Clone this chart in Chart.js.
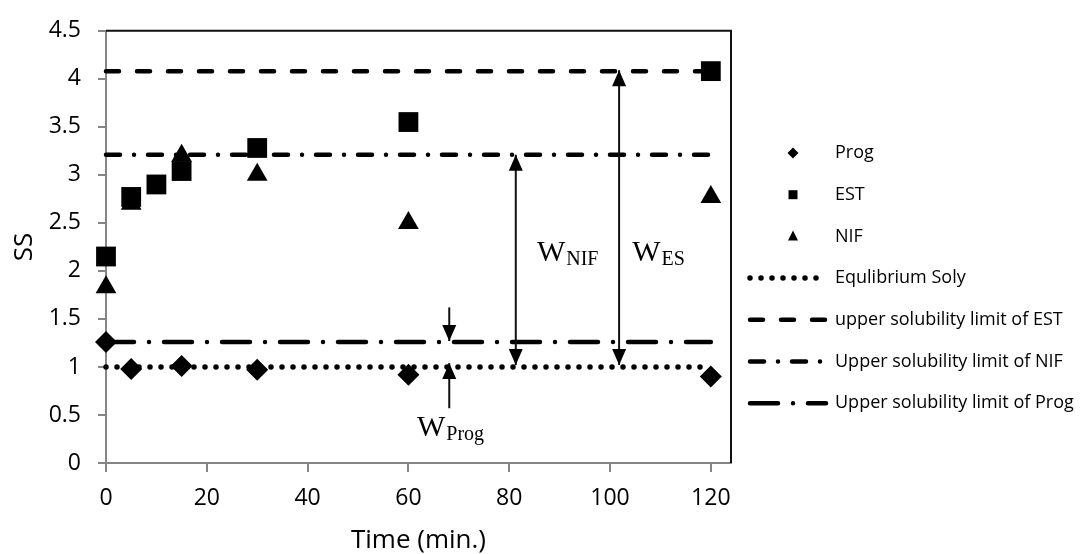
<!DOCTYPE html>
<html>
<head>
<meta charset="utf-8">
<script src="https://cdn.jsdelivr.net/npm/chart.js"></script>
<style>
  body { margin: 0; background: #fff; }
</style>
</head>
<body>
<canvas id="ssChart" width="1085" height="554"></canvas>
<script>
const times = [0, 5, 10, 15, 30, 60, 120];
const progSS = [1.26, 0.98, null, 1.01, 0.97, 0.92, 0.90];
const estSS = [2.15, 2.77, 2.90, 3.04, 3.28, 3.55, 4.08];
const nifSS = [1.83, 2.70, null, 3.20, 3.00, 2.50, 2.77];

const limitNames = [
  "Equlibrium Soly",
  "upper solubility limit of EST",
  "Upper solubility limit of NIF",
  "Upper solubility limit of Prog"
];
const limitValues = [1.0, 4.08, 3.21, 1.26];
const limitSpan = [0, 120];

// arrows and W labels drawn over the plot (data coordinates)
const arrowMarks = [
  { x: 81.3, y1: 1.02, y2: 3.21, both: true },
  { x: 101.8, y1: 1.02, y2: 4.09, both: true },
  { x: 68.1, y1: 1.62, y2: 1.27 },
  { x: 68.1, y1: 0.57, y2: 1.04 }
];
const wLabels = [
  { sub: "NIF", x: 85.5, y: 2.1 },
  { sub: "ES", x: 104.4, y: 2.1 },
  { sub: "Prog", x: 61.7, y: 0.285 }
];

const toPoints = (vals) =>
  times.map((t, i) => ({ x: t, y: vals[i] })).filter((p) => p.y !== null);

const dashes = [[0, 11], [13, 18], [14, 14, 0, 14], [28, 15, 0, 15]];
const widths = [5.5, 4.5, 4.5, 4.5];

const ctx = document.getElementById("ssChart").getContext("2d");
Chart.defaults.font.family = "'Open Sans', sans-serif";
Chart.defaults.color = "#000";

const markerSets = [
  { label: "Prog", data: toPoints(progSS), pointStyle: "rectRot", pointRadius: 11 },
  { label: "EST", data: toPoints(estSS), pointStyle: "rect", pointRadius: 14 },
  { label: "NIF", data: toPoints(nifSS), pointStyle: "triangle", pointRadius: 12 }
].map((d) => ({
  ...d,
  showLine: false,
  clip: false,
  backgroundColor: "#000",
  borderColor: "#000",
  borderWidth: 0,
  pointHoverRadius: d.pointRadius
}));

const limitSets = limitNames.map((name, i) => ({
  label: name,
  data: limitSpan.map((x) => ({ x, y: limitValues[i] })),
  showLine: true,
  clip: false,
  pointRadius: 0,
  borderColor: "#000",
  borderWidth: widths[i],
  borderDash: dashes[i],
  borderCapStyle: "round",
  fill: false
}));

const sideLegend = {
  id: "sideLegend",
  afterDraw(chart) {
    const c = chart.ctx;
    c.save();
    c.font = "18px 'Open Sans', sans-serif";
    c.textBaseline = "middle";
    chart.data.datasets.forEach((ds, i) => {
      const y = 153 + i * 41.7;
      c.fillStyle = "#000";
      c.strokeStyle = "#000";
      if (ds.showLine) {
        c.lineWidth = ds.borderWidth;
        c.lineCap = "round";
        c.setLineDash(ds.borderDash);
        c.beginPath();
        c.moveTo(750, y);
        c.lineTo(826, y);
        c.stroke();
        c.setLineDash([]);
      } else {
        const mx = 793;
        c.beginPath();
        if (ds.pointStyle === "rectRot") {
          c.moveTo(mx - 5.5, y);
          c.lineTo(mx, y - 5.5);
          c.lineTo(mx + 5.5, y);
          c.lineTo(mx, y + 5.5);
        } else if (ds.pointStyle === "rect") {
          c.rect(mx - 4.5, y - 4.5, 9, 9);
        } else {
          c.moveTo(mx, y - 6);
          c.lineTo(mx + 5, y + 4);
          c.lineTo(mx - 5, y + 4);
        }
        c.closePath();
        c.fill();
      }
      c.fillText(ds.label, 835, y);
    });
    c.restore();
  }
};

const plotMarks = {
  id: "plotMarks",
  afterDatasetsDraw(chart) {
    const { ctx: c, chartArea: a, scales } = chart;
    c.save();
    // plot frame, top and right
    c.strokeStyle = "#111";
    c.lineWidth = 2;
    c.beginPath();
    c.moveTo(a.left, a.top);
    c.lineTo(a.right, a.top);
    c.lineTo(a.right, a.bottom);
    c.stroke();

    c.fillStyle = "#000";
    c.lineWidth = 2;
    const head = (x, yTip, dir) => {
      c.beginPath();
      c.moveTo(x, yTip);
      c.lineTo(x - 7, yTip - dir * 16);
      c.lineTo(x + 7, yTip - dir * 16);
      c.closePath();
      c.fill();
    };
    arrowMarks.forEach((m) => {
      const x = scales.x.getPixelForValue(m.x);
      const p1 = scales.y.getPixelForValue(m.y1);
      const p2 = scales.y.getPixelForValue(m.y2);
      c.beginPath();
      c.moveTo(x, p1);
      c.lineTo(x, p2);
      c.stroke();
      head(x, p2, p2 > p1 ? 1 : -1);
      if (m.both) head(x, p1, p1 > p2 ? 1 : -1);
    });

    c.textBaseline = "alphabetic";
    wLabels.forEach((l) => {
      const x = scales.x.getPixelForValue(l.x);
      const y = scales.y.getPixelForValue(l.y);
      c.font = "30px 'Liberation Serif', serif";
      c.fillText("W", x, y);
      const w = c.measureText("W").width;
      c.font = "20px 'Liberation Serif', serif";
      c.fillText(l.sub, x + w + 1, y + 4);
    });
    c.restore();
  }
};

new Chart(ctx, {
  type: "scatter",
  data: { datasets: [...markerSets, ...limitSets] },
  options: {
    responsive: false,
    animation: false,
    layout: { padding: { top: 23, right: 354, left: 0, bottom: 0 } },
    plugins: {
      legend: { display: false },
      tooltip: { enabled: false }
    },
    scales: {
      x: {
        type: "linear",
        min: 0,
        max: 124,
        afterFit: (s) => { s.height = 91; },
        ticks: {
          stepSize: 20,
          includeBounds: false,
          padding: 13,
          maxRotation: 0,
          font: { size: 23 }
        },
        grid: {
          drawOnChartArea: false,
          drawTicks: true,
          tickLength: 9,
          color: "#868686",
          lineWidth: 2
        },
        border: { color: "#868686", width: 2 },
        title: {
          display: true,
          text: "Time (min.)",
          font: { size: 26 },
          padding: { top: 0, bottom: -2 }
        }
      },
      y: {
        min: 0,
        max: 4.5,
        afterFit: (s) => { s.width = 106; },
        ticks: {
          stepSize: 0.5,
          padding: 17,
          font: { size: 23 },
          callback: (v) => String(Math.round(v * 10) / 10)
        },
        grid: {
          drawOnChartArea: false,
          drawTicks: true,
          tickLength: 8,
          color: "#868686",
          lineWidth: 2
        },
        border: { color: "#868686", width: 2 },
        title: {
          display: true,
          text: "SS",
          font: { size: 26 },
          padding: { top: 9, bottom: 0 }
        }
      }
    }
  },
  plugins: [sideLegend, plotMarks]
});
</script>
</body>
</html>
